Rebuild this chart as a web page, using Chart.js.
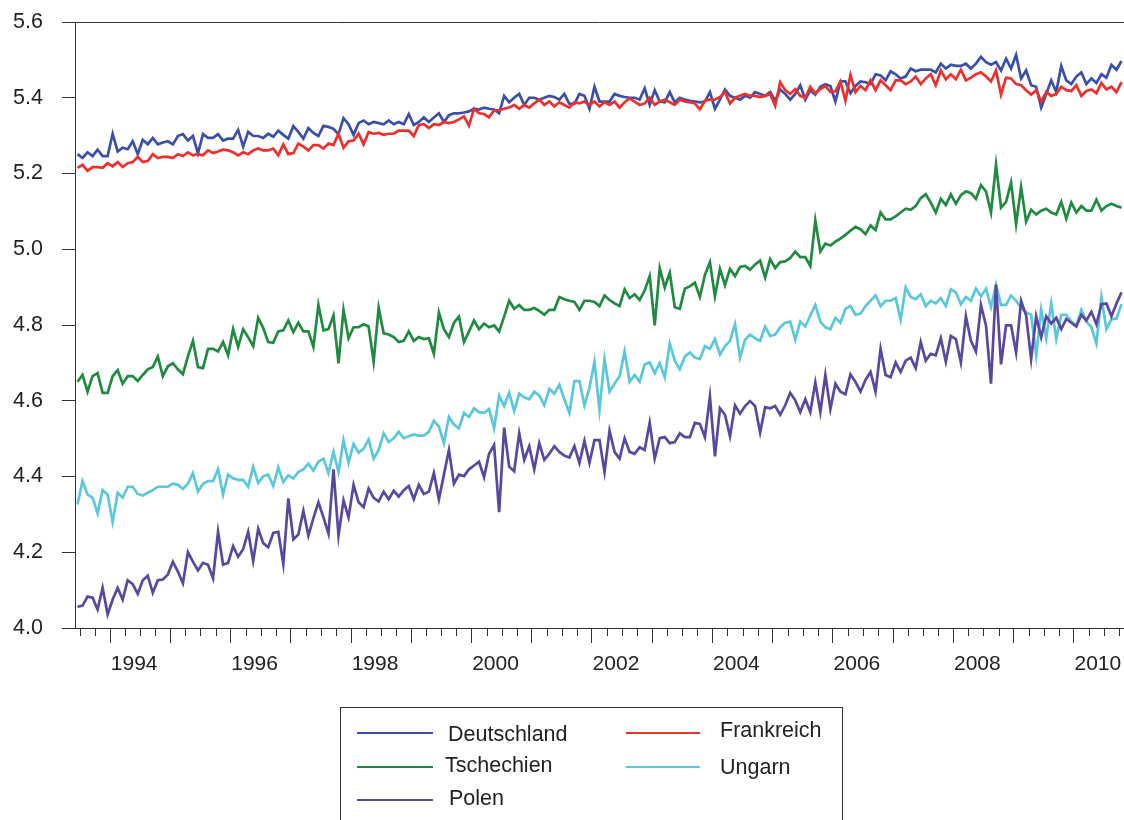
<!DOCTYPE html>
<html><head><meta charset="utf-8">
<script src="https://cdn.jsdelivr.net/npm/chart.js@4.4.1/dist/chart.umd.min.js"></script>
<style>html,body{margin:0;padding:0;background:#fff;}canvas{display:block;}</style>
</head><body>
<canvas id="c" width="1124" height="820"></canvas>
<script>
// monthly observations, first one June 1993, last one October 2010
const startYear = 1993, startMonth = 6;
const seriesNames = ['Deutschland', 'Frankreich', 'Tschechien', 'Ungarn', 'Polen'];
const seriesColors = ['#3a50a8', '#ee2f2b', '#1f8a40', '#5bc7dc', '#5a479f'];

const deutschland = [5.251,5.241,5.256,5.246,5.263,5.246,5.246,5.305,5.258,5.268,5.264,5.285,5.251,5.289,5.277,5.294,5.277,5.282,5.285,5.277,5.299,5.304,5.287,5.299,5.253,5.304,5.294,5.294,5.304,5.287,
5.292,5.292,5.315,5.271,5.310,5.299,5.299,5.294,5.305,5.297,5.313,5.302,5.292,5.325,5.310,5.292,5.320,5.307,5.299,5.326,5.323,5.318,5.304,5.346,5.330,5.302,5.333,5.340,5.330,5.336,
5.333,5.330,5.340,5.330,5.336,5.330,5.357,5.328,5.336,5.348,5.336,5.348,5.359,5.336,5.354,5.359,5.359,5.361,5.364,5.371,5.369,5.374,5.371,5.369,5.359,5.405,5.388,5.400,5.410,5.381,
5.400,5.400,5.395,5.400,5.405,5.402,5.395,5.410,5.384,5.384,5.410,5.405,5.371,5.429,5.390,5.390,5.390,5.410,5.405,5.402,5.400,5.400,5.395,5.425,5.381,5.420,5.390,5.388,5.415,5.388,
5.400,5.395,5.392,5.390,5.388,5.390,5.415,5.371,5.395,5.422,5.405,5.400,5.395,5.405,5.400,5.415,5.410,5.405,5.415,5.392,5.422,5.410,5.395,5.410,5.433,5.395,5.420,5.408,5.429,5.436,
5.431,5.390,5.443,5.443,5.412,5.431,5.443,5.441,5.436,5.462,5.459,5.446,5.470,5.462,5.451,5.456,5.477,5.470,5.474,5.474,5.474,5.467,5.490,5.477,5.487,5.484,5.484,5.490,5.477,5.490,
5.508,5.494,5.487,5.494,5.472,5.503,5.477,5.513,5.451,5.472,5.433,5.429,5.374,5.410,5.446,5.415,5.484,5.446,5.436,5.456,5.467,5.436,5.451,5.439,5.462,5.453,5.487,5.474,5.497];

const frankreich = [5.215,5.223,5.207,5.217,5.217,5.215,5.227,5.219,5.230,5.217,5.227,5.230,5.244,5.230,5.233,5.251,5.241,5.244,5.244,5.241,5.251,5.246,5.256,5.248,5.251,5.248,5.261,5.254,5.258,5.263,
5.261,5.256,5.248,5.256,5.251,5.261,5.266,5.261,5.261,5.266,5.248,5.277,5.251,5.254,5.279,5.271,5.261,5.275,5.275,5.266,5.279,5.275,5.305,5.268,5.285,5.287,5.305,5.277,5.309,5.305,
5.307,5.302,5.305,5.305,5.313,5.313,5.313,5.299,5.328,5.330,5.320,5.330,5.328,5.336,5.333,5.336,5.343,5.351,5.326,5.371,5.359,5.357,5.348,5.367,5.367,5.371,5.374,5.381,5.371,5.381,
5.374,5.385,5.395,5.381,5.390,5.377,5.388,5.381,5.374,5.388,5.385,5.390,5.381,5.390,5.377,5.388,5.381,5.390,5.374,5.388,5.398,5.390,5.381,5.385,5.400,5.381,5.390,5.395,5.388,5.381,
5.395,5.390,5.388,5.385,5.369,5.392,5.395,5.395,5.402,5.415,5.385,5.400,5.405,5.410,5.405,5.405,5.402,5.405,5.410,5.379,5.441,5.420,5.410,5.423,5.405,5.400,5.429,5.412,5.423,5.431,
5.415,5.417,5.443,5.392,5.460,5.415,5.431,5.420,5.446,5.420,5.446,5.433,5.420,5.446,5.446,5.436,5.443,5.456,5.436,5.451,5.462,5.433,5.472,5.449,5.462,5.449,5.474,5.446,5.453,5.462,
5.467,5.456,5.443,5.472,5.408,5.453,5.451,5.436,5.433,5.420,5.408,5.420,5.390,5.415,5.405,5.410,5.429,5.420,5.418,5.433,5.405,5.418,5.422,5.412,5.439,5.422,5.429,5.415,5.441];

const tschechien = [4.650,4.668,4.624,4.665,4.673,4.621,4.621,4.665,4.681,4.645,4.665,4.665,4.652,4.668,4.683,4.689,4.717,4.665,4.691,4.699,4.683,4.670,4.717,4.758,4.689,4.686,4.737,4.737,4.730,4.755,
4.720,4.789,4.742,4.789,4.768,4.744,4.819,4.792,4.755,4.753,4.783,4.786,4.812,4.781,4.806,4.783,4.783,4.742,4.853,4.786,4.789,4.825,4.699,4.840,4.765,4.794,4.794,4.802,4.796,4.703,
4.845,4.778,4.775,4.768,4.755,4.758,4.783,4.758,4.768,4.763,4.765,4.724,4.833,4.789,4.768,4.806,4.822,4.755,4.783,4.812,4.789,4.804,4.794,4.799,4.783,4.822,4.864,4.843,4.853,4.840,
4.840,4.845,4.837,4.827,4.840,4.840,4.874,4.868,4.864,4.861,4.840,4.864,4.864,4.861,4.850,4.878,4.866,4.857,4.850,4.894,4.871,4.881,4.866,4.891,4.929,4.799,4.950,4.899,4.938,4.847,
4.843,4.896,4.902,4.912,4.874,4.932,4.966,4.876,4.948,4.905,4.948,4.929,4.953,4.956,4.946,4.960,4.970,4.925,4.974,4.950,4.966,4.968,4.977,4.994,4.979,4.979,4.956,5.076,4.994,5.015,
5.010,5.020,5.028,5.038,5.049,5.059,5.053,5.040,5.063,5.051,5.097,5.079,5.079,5.087,5.097,5.107,5.104,5.114,5.135,5.145,5.123,5.097,5.133,5.117,5.145,5.120,5.143,5.153,5.148,5.133,
5.169,5.153,5.097,5.223,5.110,5.125,5.176,5.066,5.164,5.073,5.104,5.092,5.102,5.107,5.097,5.092,5.125,5.081,5.123,5.097,5.114,5.102,5.102,5.131,5.102,5.114,5.120,5.114,5.110];

const ungarn = [4.326,4.388,4.352,4.344,4.303,4.364,4.352,4.280,4.357,4.344,4.373,4.373,4.354,4.350,4.357,4.364,4.373,4.373,4.373,4.381,4.378,4.367,4.381,4.409,4.360,4.381,4.388,4.388,4.419,4.352,
4.405,4.395,4.391,4.391,4.373,4.426,4.383,4.401,4.405,4.375,4.424,4.385,4.403,4.395,4.412,4.419,4.434,4.416,4.439,4.447,4.409,4.465,4.412,4.496,4.436,4.486,4.463,4.473,4.498,4.447,
4.470,4.514,4.491,4.501,4.518,4.501,4.506,4.511,4.508,4.508,4.518,4.547,4.532,4.488,4.557,4.537,4.527,4.568,4.557,4.580,4.570,4.568,4.578,4.527,4.614,4.586,4.621,4.573,4.619,4.609,
4.604,4.624,4.614,4.588,4.631,4.619,4.642,4.604,4.568,4.652,4.652,4.588,4.634,4.703,4.576,4.710,4.624,4.645,4.665,4.730,4.650,4.668,4.650,4.696,4.701,4.673,4.699,4.662,4.751,4.706,
4.683,4.717,4.727,4.714,4.710,4.744,4.737,4.763,4.722,4.744,4.758,4.802,4.714,4.761,4.775,4.765,4.758,4.796,4.771,4.775,4.794,4.806,4.809,4.761,4.809,4.796,4.825,4.853,4.809,4.794,
4.789,4.819,4.806,4.843,4.850,4.827,4.830,4.850,4.864,4.878,4.850,4.864,4.864,4.871,4.814,4.899,4.874,4.868,4.881,4.850,4.864,4.857,4.871,4.850,4.894,4.886,4.855,4.874,4.864,4.896,
4.876,4.896,4.847,4.907,4.853,4.853,4.878,4.864,4.845,4.833,4.827,4.720,4.840,4.765,4.857,4.763,4.827,4.827,4.809,4.799,4.840,4.809,4.794,4.751,4.874,4.789,4.815,4.817,4.855];

const polen = [4.056,4.059,4.083,4.080,4.049,4.106,4.036,4.075,4.106,4.075,4.126,4.116,4.090,4.126,4.138,4.093,4.126,4.128,4.141,4.175,4.149,4.118,4.200,4.175,4.152,4.172,4.167,4.131,4.254,4.167,
4.172,4.216,4.188,4.208,4.254,4.177,4.262,4.224,4.213,4.251,4.254,4.169,4.342,4.234,4.247,4.309,4.244,4.290,4.332,4.292,4.249,4.419,4.244,4.337,4.292,4.378,4.332,4.319,4.368,4.344,
4.334,4.360,4.340,4.362,4.347,4.364,4.375,4.340,4.378,4.354,4.360,4.409,4.340,4.405,4.470,4.381,4.405,4.401,4.419,4.429,4.439,4.398,4.460,4.483,4.306,4.529,4.426,4.414,4.514,4.444,
4.480,4.419,4.488,4.444,4.460,4.480,4.465,4.455,4.450,4.480,4.436,4.494,4.436,4.496,4.496,4.412,4.521,4.465,4.447,4.501,4.465,4.460,4.477,4.470,4.542,4.447,4.501,4.504,4.488,4.491,
4.514,4.504,4.504,4.542,4.539,4.504,4.611,4.453,4.580,4.563,4.506,4.588,4.566,4.586,4.599,4.586,4.516,4.583,4.580,4.586,4.563,4.588,4.621,4.601,4.570,4.604,4.570,4.648,4.570,4.668,
4.578,4.645,4.624,4.617,4.670,4.650,4.624,4.655,4.676,4.624,4.737,4.668,4.662,4.701,4.676,4.706,4.714,4.686,4.755,4.706,4.724,4.720,4.765,4.703,4.771,4.763,4.701,4.823,4.758,4.730,
4.853,4.799,4.645,4.907,4.696,4.799,4.799,4.727,4.864,4.825,4.710,4.823,4.768,4.823,4.804,4.819,4.789,4.816,4.806,4.796,4.827,4.812,4.835,4.802,4.855,4.857,4.823,4.857,4.886];

const yTickValues = [4.0, 4.2, 4.4, 4.6, 4.8, 5.0, 5.2, 5.4, 5.6];
const majorYears = [1994,1995,1996,1997,1998,1999,2000,2001,2002,2003,2004,2005,2006,2007,2008,2009,2010];
const xLabelYears = [1994, 1996, 1998, 2000, 2002, 2004, 2006, 2008, 2010];

const allSeries = [deutschland, frankreich, tschechien, ungarn, polen];
const nObs = deutschland.length;
const xMin = startYear + (startMonth - 1) / 12;
const xMax = startYear + (startMonth - 1 + nObs) / 12;
const toPoints = arr => arr.map((v, i) => ({ x: startYear + (startMonth - 1 + i + 0.5) / 12, y: v }));

const FONT = "'Liberation Sans', Arial, Helvetica, sans-serif";
const TXT = '#222222';
const AX = '#333333';

// legend layout (two columns)
const legendLines = [[357, 433, 733], [626, 700, 733], [357, 433, 767], [626, 700, 767], [357, 433, 800]];
const legendTexts = [[448, 735], [720, 731], [445, 766], [720, 768], [449, 799]];

const framePlugin = {
  id: 'frame',
  afterDraw(chart) {
    const { ctx, chartArea: a, scales: { x } } = chart;
    ctx.save();
    ctx.strokeStyle = AX; ctx.lineWidth = 1;
    ctx.beginPath();
    ctx.moveTo(a.left, a.top + 0.5); ctx.lineTo(a.right, a.top + 0.5);
    ctx.stroke();
    // quarterly minor ticks
    ctx.beginPath();
    for (let q = Math.ceil(xMin * 4) / 4; q <= xMax + 1e-9; q += 0.25) {
      if (Math.abs(q - Math.round(q)) < 1e-6) continue;
      const px = Math.round(x.getPixelForValue(q)) + 0.5;
      ctx.moveTo(px, a.bottom); ctx.lineTo(px, a.bottom + 8);
    }
    ctx.stroke();
    // legend
    ctx.strokeStyle = AX; ctx.lineWidth = 1;
    ctx.strokeRect(340.5, 707.5, 502, 140);
    ctx.font = '21.5px ' + FONT;
    ctx.fillStyle = TXT;
    ctx.textBaseline = 'middle';
    ctx.textAlign = 'left';
    seriesNames.forEach((name, i) => {
      const l = legendLines[i], t = legendTexts[i];
      ctx.strokeStyle = seriesColors[i]; ctx.lineWidth = 2;
      ctx.beginPath(); ctx.moveTo(l[0], l[2]); ctx.lineTo(l[1], l[2]); ctx.stroke();
      ctx.fillText(name, t[0], t[1]);
    });
    ctx.restore();
  }
};

new Chart(document.getElementById('c'), {
  type: 'line',
  data: {
    datasets: allSeries.map((arr, i) => ({
      label: seriesNames[i],
      data: toPoints(arr),
      borderColor: seriesColors[i],
      backgroundColor: seriesColors[i],
      borderWidth: 2.7,
      pointRadius: 0,
      tension: 0,
      fill: false,
      order: allSeries.length - i
    }))
  },
  options: {
    responsive: false,
    animation: false,
    layout: { padding: { top: 22, left: 0, right: 0, bottom: 0 } },
    plugins: { legend: { display: false }, tooltip: { enabled: false } },
    scales: {
      x: {
        type: 'linear', min: xMin, max: xMax,
        afterBuildTicks: s => { s.ticks = majorYears.map(v => ({ value: v })); },
        afterFit: s => { s.height = 192; s.paddingLeft = 0; s.paddingRight = 0; },
        ticks: {
          autoSkip: false, maxRotation: 0, minRotation: 0,
          callback: v => xLabelYears.includes(v) ? String(v) : '',
          labelOffset: 24, padding: 9,
          font: { family: FONT, size: 21 }, color: TXT
        },
        grid: { drawOnChartArea: false, drawTicks: true, tickLength: 15, color: AX, tickColor: AX, tickWidth: 1 },
        border: { display: true, color: AX, width: 1 }
      },
      y: {
        min: 4.0, max: 5.6,
        afterBuildTicks: s => { s.ticks = yTickValues.map(v => ({ value: v })); },
        afterFit: s => { s.width = 75; s.paddingTop = 0; s.paddingBottom = 0; },
        ticks: {
          callback: v => Number(v).toFixed(1),
          padding: 19,
          font: { family: FONT, size: 21.5 }, color: TXT
        },
        grid: { drawOnChartArea: false, drawTicks: true, tickLength: 13, color: AX, tickColor: AX, tickWidth: 1 },
        border: { display: true, color: AX, width: 1 }
      }
    }
  },
  plugins: [framePlugin]
});
</script>
</body></html>
